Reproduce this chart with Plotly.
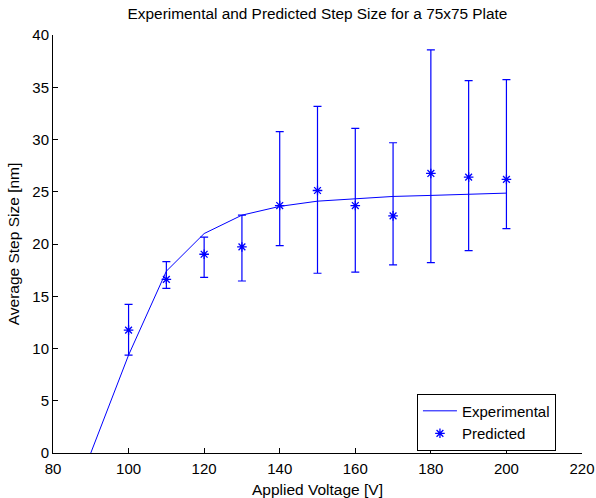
import plotly.graph_objects as go

# Data
exp_voltage = [90, 100, 110, 120, 130, 140, 150, 160, 170, 180, 190, 200]
exp_step = [0.0, 9.37, 17.4, 21.0, 22.76, 23.6, 24.1, 24.3, 24.55, 24.65, 24.77, 24.87]

pred_voltage = [100, 110, 120, 130, 140, 150, 160, 170, 180, 190, 200]
pred_step = [11.76, 16.62, 19.02, 19.72, 23.68, 25.12, 23.68, 22.69, 26.75, 26.4, 26.18]
pred_upper = [14.23, 18.31, 20.65, 22.76, 30.75, 33.17, 31.07, 29.69, 38.58, 35.64, 35.73]
pred_lower = [9.37, 15.76, 16.81, 16.46, 19.85, 17.2, 17.3, 18.0, 18.22, 19.37, 21.48]

x_ticks = [80, 100, 120, 140, 160, 180, 200, 220]
y_ticks = [0, 5, 10, 15, 20, 25, 30, 35, 40]

err_plus = [u - v for u, v in zip(pred_upper, pred_step)]
err_minus = [v - l for v, l in zip(pred_step, pred_lower)]

FONT = "Liberation Sans, Arial, Helvetica, sans-serif"
BLUE = "rgb(0,0,255)"

fig = go.Figure()
fig.add_trace(go.Scatter(
    x=exp_voltage, y=exp_step, mode="lines", name="Experimental",
    line=dict(color=BLUE, width=1),
))
fig.add_trace(go.Scatter(
    x=pred_voltage, y=pred_step, mode="markers", name="Predicted",
    marker=dict(symbol="asterisk-open", size=8, color=BLUE,
                line=dict(color=BLUE, width=1.3)),
    error_y=dict(type="data", symmetric=False, array=err_plus,
                 arrayminus=err_minus, color=BLUE, thickness=1.2, width=4),
))

fig.update_layout(
    width=596, height=498,
    margin=dict(l=53, r=14, t=35, b=45),
    paper_bgcolor="white", plot_bgcolor="white",
    font=dict(family=FONT, size=15, color="black"),
    title=dict(text="Experimental and Predicted Step Size for a 75x75 Plate",
               x=0.5, xref="paper", xanchor="center",
               y=1 - 14 / 498, yanchor="middle",
               font=dict(family=FONT, size=15.4, color="black")),
    showlegend=True,
    legend=dict(x=0.688, y=0.074, xanchor="left", yanchor="middle",
                bgcolor="white", bordercolor="black", borderwidth=1,
                font=dict(family=FONT, size=15, color="black"),
                tracegroupgap=0, itemwidth=34),
)
fig.update_xaxes(
    range=[80, 220], tickvals=x_ticks, automargin=False,
    showline=True, linecolor="black", linewidth=1, mirror=False,
    ticks="inside", ticklen=5, tickcolor="black", showgrid=False, zeroline=False,
    ticklabelstandoff=2,
    title=dict(text="Applied Voltage [V]", standoff=11,
               font=dict(family=FONT, size=15.5)),
    tickfont=dict(family=FONT, size=15),
)
fig.update_yaxes(
    range=[0, 40], tickvals=y_ticks, automargin=False,
    showline=True, linecolor="black", linewidth=1, mirror=False,
    ticks="inside", ticklen=5, tickcolor="black", showgrid=False, zeroline=False,
    title=dict(text="Average Step Size [nm]", standoff=8,
               font=dict(family=FONT, size=15.5)),
    tickfont=dict(family=FONT, size=15),
)

fig.write_html("out.html")
